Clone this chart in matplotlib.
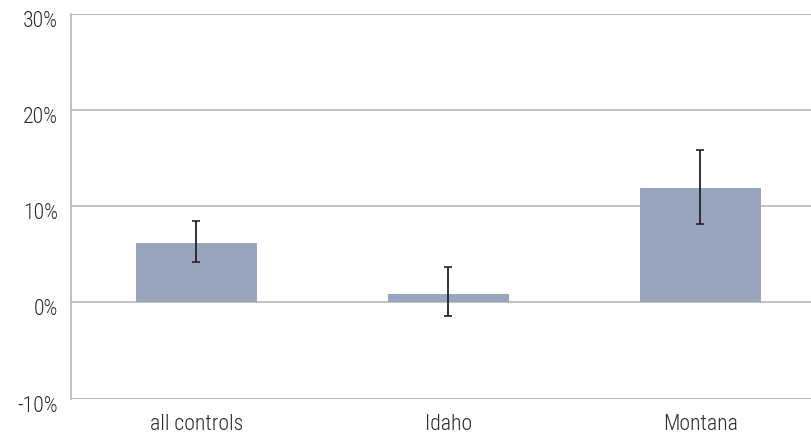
import matplotlib
matplotlib.use("Agg")
import matplotlib.pyplot as plt
import matplotlib.transforms as mtransforms
from matplotlib.ticker import FuncFormatter

categories = ["all controls", "Idaho", "Montana"]
values = [6.2, 0.86, 11.9]
err_low = [4.18, -1.45, 8.2]
err_high = [8.48, 3.64, 15.8]
yticks = [-10, 0, 10, 20, 30]

plt.rcParams['font.family'] = ['Roboto Condensed', 'Archivo Narrow', 'Liberation Sans', 'DejaVu Sans']
plt.rcParams['font.weight'] = 300

fig = plt.figure(figsize=(8.12, 4.34), dpi=100)
W, H = 812, 434
left, right = 70.5, 826.5
bottom, top = 434 - 398.7, 434 - 13.7
ax = fig.add_axes([left / W, bottom / H, (right - left) / W, (top - bottom) / H])

x = list(range(len(categories)))
yerr = [[v - lo for v, lo in zip(values, err_low)], [hi - v for v, hi in zip(values, err_high)]]
ax.bar(x, values, width=0.48, color="#98a5bd", zorder=2)
ax.errorbar(x, values, yerr=yerr, fmt="none", ecolor="#222222", elinewidth=1.3,
            capsize=3, capthick=1.2, zorder=3)

ax.set_xlim(-0.5, 2.5)
ax.set_ylim(-10, 30)
ax.set_yticks(yticks)
ax.yaxis.set_major_formatter(FuncFormatter(lambda v, p: f"{int(v)}%"))
ax.set_xticks(x)
ax.set_xticklabels(categories)
ax.grid(axis="y", color="#bdbdbd", linewidth=1.3, zorder=0)
ax.set_axisbelow(True)
for s in ["top", "right", "bottom"]:
    ax.spines[s].set_visible(False)
ax.spines["left"].set_color("#bdbdbd")
ax.spines["left"].set_linewidth(1.3)
ax.tick_params(axis="both", length=0, labelsize=15.7, colors="#2a2a2a")
ax.tick_params(axis="y", pad=9)
ax.tick_params(axis="x", pad=11)

offset = mtransforms.ScaledTranslation(0, -5 / 100, fig.dpi_scale_trans)
for lbl in ax.get_yticklabels():
    lbl.set_transform(lbl.get_transform() + offset)

fig.savefig("out.png", dpi=100)
